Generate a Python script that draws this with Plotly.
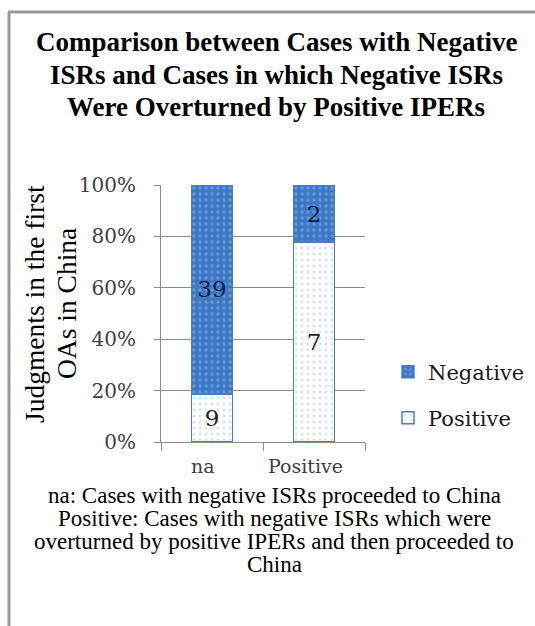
import plotly.graph_objects as go

# Data: judgments in the first office actions in China
categories = ["na", "Positive"]
positive_counts = [9, 7]
negative_counts = [39, 2]
y_ticks = [0, 0.2, 0.4, 0.6, 0.8, 1.0]

title_lines = [
    "Comparison between Cases with Negative",
    "ISRs and Cases in which Negative ISRs",
    "Were Overturned by Positive IPERs",
]
note_lines = [
    "na: Cases with negative ISRs proceeded to China",
    "Positive: Cases with negative ISRs which were",
    "overturned by positive IPERs and then proceeded to",
    "China",
]
y_title_lines = ["Judgments in the first", "OAs in China"]

totals = [p + n for p, n in zip(positive_counts, negative_counts)]
positive_share = [p / t for p, t in zip(positive_counts, totals)]
negative_share = [n / t for n, t in zip(negative_counts, totals)]

W, H = 535, 626
L, R, T, B = 161, 170, 185, 184


def px_x(px):
    return (px - L) / (W - L - R)


def px_y(py):
    return (H - B - py) / (H - T - B)


BLUE = "#3d78c6"
EDGE = "#4a7ebb"
SERIF_NUM = "DejaVu Serif"
SERIF_TXT = "Liberation Serif"

fig = go.Figure()
fig.add_trace(go.Bar(
    x=categories, y=positive_share, name="Positive",
    text=[str(v) for v in positive_counts],
    textposition="inside", insidetextanchor="middle", constraintext="none",
    textangle=0,
    textfont=dict(family=SERIF_NUM, size=23, color="#1e1e1e"),
    marker=dict(
        color="white",
        line=dict(color=EDGE, width=1.5),
        pattern=dict(shape=".", bgcolor="white", fgcolor="#b9cbe6",
                     size=6, solidity=0.25),
    ),
    legend="legend2",
))
fig.add_trace(go.Bar(
    x=categories, y=negative_share, name="Negative",
    text=[str(v) for v in negative_counts],
    textposition="inside", insidetextanchor="middle", constraintext="none",
    textangle=0,
    textfont=dict(family=SERIF_NUM, size=23, color="#15223f"),
    marker=dict(
        color=BLUE,
        line=dict(color=EDGE, width=1.5),
        pattern=dict(shape=".", bgcolor=BLUE, fgcolor="#8fb2e0",
                     size=6, solidity=0.25),
    ),
    legend="legend",
))

annotations = []
for text, yc in zip(title_lines, [42, 75, 107]):
    annotations.append(dict(
        text=f"<b>{text}</b>", x=px_x(276), y=px_y(yc),
        xref="paper", yref="paper", xanchor="center", yanchor="middle",
        showarrow=False, font=dict(family=SERIF_TXT, size=27, color="black"),
    ))
for text, yc in zip(note_lines, [495, 518, 541, 564]):
    annotations.append(dict(
        text=text, x=px_x(274), y=px_y(yc),
        xref="paper", yref="paper", xanchor="center", yanchor="middle",
        showarrow=False, font=dict(family=SERIF_TXT, size=23, color="black"),
    ))
for text, xc in zip(y_title_lines, [34, 66]):
    annotations.append(dict(
        text=text, x=px_x(xc), y=px_y(304), textangle=-90,
        xref="paper", yref="paper", xanchor="center", yanchor="middle",
        showarrow=False, font=dict(family=SERIF_TXT, size=27.5, color="black"),
    ))
# category labels sit slightly left of their bars
for cat in categories:
    annotations.append(dict(
        text=cat, x=cat, xref="x", y=px_y(466), yref="paper",
        xanchor="center", yanchor="middle", xshift=-9, showarrow=False,
        font=dict(family=SERIF_NUM, size=19, color="#404040"),
    ))

frame = dict(color="#999999", width=3)
shapes = [
    dict(type="line", xref="paper", yref="paper",
         x0=px_x(8), x1=px_x(540), y0=px_y(12), y1=px_y(12), line=frame),
    dict(type="line", xref="paper", yref="paper",
         x0=px_x(9), x1=px_x(9), y0=px_y(12), y1=px_y(640), line=frame),
]

legend_common = dict(
    xref="paper", yref="paper", xanchor="left", yanchor="middle",
    bgcolor="rgba(0,0,0,0)", borderwidth=0,
    font=dict(family=SERIF_NUM, size=21, color="#1a1a1a"),
    itemwidth=30,
)

fig.update_layout(
    width=W, height=H,
    margin=dict(l=L, r=R, t=T, b=B, autoexpand=False),
    paper_bgcolor="white", plot_bgcolor="white",
    barmode="stack", bargap=0.6,
    showlegend=True,
    legend=dict(x=px_x(388), y=px_y(372), **legend_common),
    legend2=dict(x=px_x(388), y=px_y(418), **legend_common),
    annotations=annotations,
    shapes=shapes,
    xaxis=dict(
        type="category", tickson="boundaries", ticks="outside", ticklen=8,
        tickcolor="#8c8c8c", showline=True, linecolor="#8c8c8c", linewidth=1,
        showgrid=False, showticklabels=False,
    ),
    yaxis=dict(
        range=[0, 1], tickvals=y_ticks, tickformat=".0%",
        ticks="outside", ticklen=6, tickcolor="#8c8c8c",
        showline=True, linecolor="#8c8c8c", linewidth=1,
        showgrid=True, gridcolor="#8c8c8c", gridwidth=1,
        zeroline=False, ticklabelstandoff=14,
        tickfont=dict(family=SERIF_NUM, size=20, color="#404040"),
    ),
)

fig.write_html("out.html")
